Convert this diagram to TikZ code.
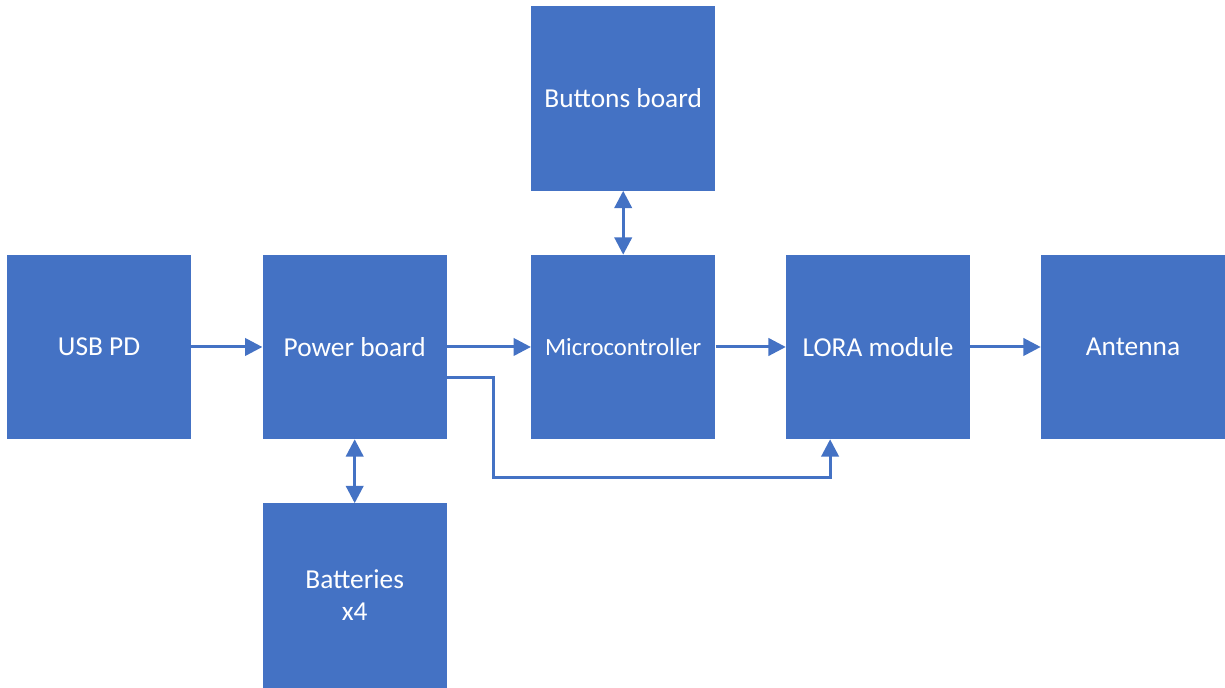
\documentclass[tikz,border=0pt]{standalone}
\usepackage{fontspec}
\setmainfont{Carlito}
\usetikzlibrary{positioning,arrows.meta,calc}
\definecolor{blkblue}{HTML}{4472C4}

\begin{document}
\begin{tikzpicture}[
  font=\fontsize{20.6}{24}\selectfont, >={Triangle[length=4.6mm,width=4.6mm]},
  blk/.style={fill=blkblue, draw=none, text=white, align=center,
              minimum width=48.7mm, minimum height=48.7mm, inner sep=0pt},
  link/.style={->, line width=0.8mm, draw=blkblue},
  both/.style={link, <->},
  node distance=16.9mm and 18.6mm,
]
\useasboundingbox (0,0) rectangle (324.1mm,-182mm);
% main row
\node[blk] (usb) at (26.2mm,-91.8mm) {USB PD};
\node[blk, right=18.8mm of usb]   (power) {Power board};
\node[blk, right=22.2mm of power, font=\fontsize{18.6}{22}\selectfont] (mcu) {Microcontroller};
\node[blk, right=of mcu]          (lora)  {LORA module};
\node[blk, right=of lora]         (ant)   {Antenna};
% above / below
\node[blk, above=of mcu]   (btn)  {Buttons board};
\node[blk, below=of power] (batt) {Batteries\\x4};

% signal / power flow
\draw[link] (usb) -- (power);
\draw[link] (power) -- (mcu);
\draw[link] (mcu) -- (lora);
\draw[link] (lora) -- (ant);
\draw[both] (btn) -- (mcu);
\draw[both] (power) -- (batt);

% supply line to the radio
\coordinate (bend) at ($(power.south east)+(12.2mm,-10.1mm)$);
\draw[link] ([yshift=-8.2mm]power.east) -| (bend) -| ([xshift=-12.7mm]lora.south);
\end{tikzpicture}
\end{document}
